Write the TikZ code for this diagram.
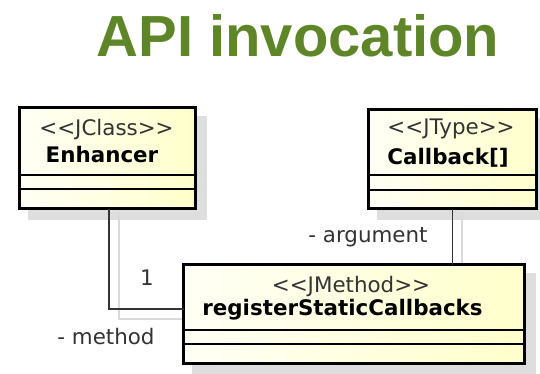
\documentclass[tikz,border=0pt]{standalone}
\usepackage{fontspec}
\setmainfont{DejaVu Sans}
\newfontfamily\titlefont{Liberation Sans}
\usetikzlibrary{calc}
\definecolor{titlegreen}{RGB}{94,134,40}
\definecolor{boxlight}{RGB}{255,255,246}
\definecolor{boxdark}{RGB}{255,255,204}
\definecolor{shadowgray}{RGB}{222,222,222}
\definecolor{wireshadow}{RGB}{218,218,218}
\newcommand{\stereotype}[1]{<\kern0pt<#1>\kern0pt>}
\begin{document}
\begin{tikzpicture}[x=1pt,y=-1pt,
  umlbox/.style={draw=black,line width=3.6pt,rectangle,inner sep=0pt,outer sep=0pt,
    left color=boxlight,right color=boxdark},
  stereo/.style={font=\fontsize{21.4}{24}\selectfont,text=black!80,inner sep=0pt},
  cname/.style={font=\fontsize{21.4}{24}\selectfont\bfseries,inner sep=0pt},
  compline/.style={line width=1.5pt},
  wire/.style={line width=1.5pt,black!80},
  wireshade/.style={line width=1.4pt,wireshadow},
  endlabel/.style={font=\fontsize{21.4}{24}\selectfont,text=black!80,inner sep=0pt}]
\useasboundingbox (0,0) rectangle (540,374);

% heading
\node[font=\titlefont\fontsize{58}{60}\selectfont\bfseries,text=titlegreen,inner sep=0pt]
  (title) at (298,36) {API invocation};

% drop shadows of the three classifiers
\fill[shadowgray] (28,116) rectangle (207,220);
\fill[shadowgray] (377,118) rectangle (548,220);
\fill[shadowgray] (192,273) rectangle (536,375);

% shadows of the associations
\coordinate (s1a) at (119,212);
\coordinate (s1b) at (193,319);
\draw[wireshade] (s1a) |- (s1b);
\coordinate (s2a) at (462,212);
\coordinate (s2b) at (462,273);
\draw[wireshade] (s2a) -- (s2b);

% classifiers
\node[umlbox,minimum width=176pt,minimum height=101pt] (enh) at (107.5,158) {};
\node[umlbox,minimum width=168pt,minimum height=99pt] (cb) at (452.5,159) {};
\node[umlbox,minimum width=341pt,minimum height=99pt] (meth) at (354,314) {};

% compartments
\draw[compline] (enh.west |- 0,175) -- (enh.east |- 0,175);
\draw[compline] (enh.west |- 0,189) -- (enh.east |- 0,189);
\draw[compline] (cb.west |- 0,175) -- (cb.east |- 0,175);
\draw[compline] (cb.west |- 0,190) -- (cb.east |- 0,190);
\draw[compline] (meth.west |- 0,330) -- (meth.east |- 0,330);
\draw[compline] (meth.west |- 0,344) -- (meth.east |- 0,344);

% names
\node[stereo] (enhst) at (106.5,130) {\stereotype{JClass}};
\node[cname] (enhnm) at (102,155) {Enhancer};
\node[stereo] (cbst) at (451,129) {\stereotype{JType}};
\node[cname] (cbnm) at (448,158) {Callback[]};
\node[stereo] (methst) at (351,287) {\stereotype{JMethod}};
\node[cname] (methnm) at (342.5,310) {registerStaticCallbacks};

% associations
\draw[wire] ([xshift=1.5pt]enh.south) |- ([yshift=5pt]meth.west);
\draw[wire] (cb.south) -- (cb.south |- meth.north);

% association end labels
\node[endlabel] (mult) at (147,278) {1};
\node[endlabel] (role1) at (106,337) {- method};
\node[endlabel] (role2) at (368,237) {- argument};
\end{tikzpicture}
\end{document}
